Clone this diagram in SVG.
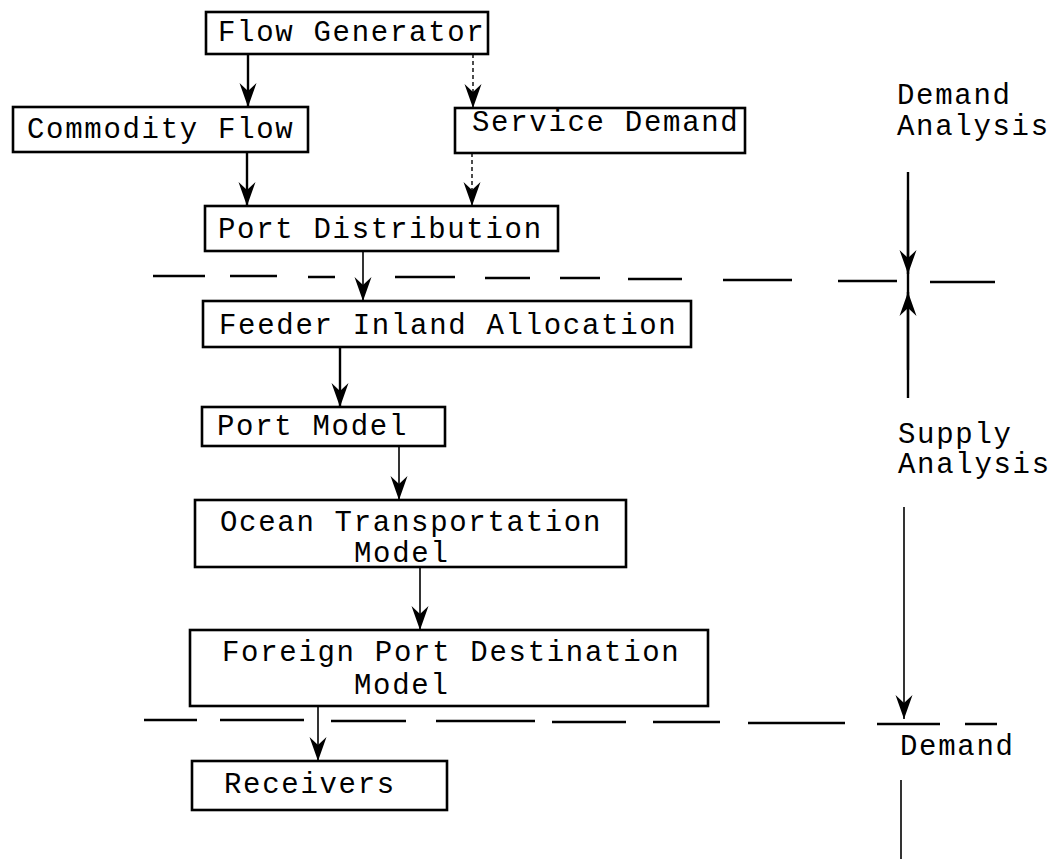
<svg xmlns="http://www.w3.org/2000/svg" width="1063" height="859" viewBox="0 0 1063 859">
<defs>
<style>
.box{fill:#fff;stroke:#000;stroke-width:2.6}
.t{font-family:"Liberation Mono","DejaVu Sans Mono",monospace;font-size:29px;letter-spacing:1.7px;fill:#000}
.ln{stroke:#000;stroke-width:2.4;fill:none}
.thin{stroke:#000;stroke-width:1.6;fill:none}
.dl{stroke:#000;stroke-width:1.4;stroke-dasharray:4 3;fill:none}
.sep{stroke:#000;stroke-width:2.6;fill:none}
</style>
<marker id="ah" viewBox="-26 -10 28 20" refX="0" refY="0" markerWidth="28" markerHeight="20" markerUnits="userSpaceOnUse" orient="auto">
<path d="M0,0 L-24,-8.5 L-16,0 L-24,8.5 Z" fill="#000"/>
</marker>
</defs>
<rect width="1063" height="859" fill="#fff"/>

<g id="dividers">
<path class="sep" d="M153,276 H205 M230,276 H277 M308,277 H335 M395,277 H455 M485,278 H530 M560,278 H600 M628,279 H682 M723,280 H792 M838,281 H897 M930,282 H995"/>
<path class="sep" d="M144,720 H197 M220,720 H304 M331,721 H406 M436,721 H535 M552,722 H626 M653,722 H720 M748,723 H845 M877,724 H940 M965,724 H997"/>
</g>

<g id="connectors">
<line class="ln" x1="248" y1="54" x2="248" y2="107" marker-end="url(#ah)"/>
<line class="dl" x1="473" y1="54" x2="473" y2="108" marker-end="url(#ah)"/>
<line class="ln" x1="247" y1="152" x2="247" y2="206" marker-end="url(#ah)"/>
<line class="dl" x1="472" y1="153" x2="472" y2="206" marker-end="url(#ah)"/>
<line class="thin" x1="363" y1="251" x2="363" y2="301" marker-end="url(#ah)"/>
<line class="ln" x1="340" y1="347" x2="340" y2="407" marker-end="url(#ah)"/>
<line class="thin" x1="399" y1="446" x2="399" y2="500" marker-end="url(#ah)"/>
<line class="thin" x1="420" y1="567" x2="420" y2="630" marker-end="url(#ah)"/>
<line class="thin" x1="318" y1="706" x2="318" y2="761" marker-end="url(#ah)"/>
<line class="ln" x1="908" y1="172" x2="908" y2="398"/>
<line class="ln" x1="908" y1="200" x2="908" y2="274" marker-end="url(#ah)"/>
<line class="ln" x1="908" y1="370" x2="908" y2="292" marker-end="url(#ah)"/>
<line class="thin" x1="904" y1="507" x2="904" y2="719" marker-end="url(#ah)"/>
<line class="thin" x1="901" y1="780" x2="901" y2="859"/>
</g>

<g id="flow-generator">
<rect class="box" x="206" y="12" width="282" height="42"/>
<text class="t" x="218" y="41">Flow Generator</text>
</g>
<g id="commodity-flow">
<rect class="box" x="13" y="107" width="295" height="45"/>
<text class="t" x="27" y="138">Commodity Flow</text>
</g>
<g id="service-demand">
<rect class="box" x="455" y="108" width="290" height="45"/>
<text class="t" x="472" y="131">Service Demand</text>
</g>
<g id="port-distribution">
<rect class="box" x="205" y="206" width="353" height="45"/>
<text class="t" x="218" y="238">Port Distribution</text>
</g>
<g id="feeder-inland-allocation">
<rect class="box" x="203" y="301" width="488" height="46"/>
<text class="t" x="219" y="334">Feeder Inland Allocation</text>
</g>
<g id="port-model">
<rect class="box" x="202" y="407" width="243" height="39"/>
<text class="t" x="217" y="435">Port Model</text>
</g>
<g id="ocean-transportation-model">
<rect class="box" x="195" y="500" width="431" height="67"/>
<text class="t" x="220" y="531">Ocean Transportation</text>
<text class="t" x="354" y="562">Model</text>
</g>
<g id="foreign-port-destination-model">
<rect class="box" x="190" y="630" width="518" height="76"/>
<text class="t" x="222" y="661">Foreign Port Destination</text>
<text class="t" x="354" y="694">Model</text>
</g>
<g id="receivers">
<rect class="box" x="192" y="761" width="255" height="49"/>
<text class="t" x="224" y="793">Receivers</text>
</g>

<g id="labels">
<text class="t" x="897" y="104">Demand</text>
<text class="t" x="897" y="135">Analysis</text>
<text class="t" x="898" y="443">Supply</text>
<text class="t" x="898" y="473">Analysis</text>
<text class="t" x="900" y="755">Demand</text>
</g>
</svg>
